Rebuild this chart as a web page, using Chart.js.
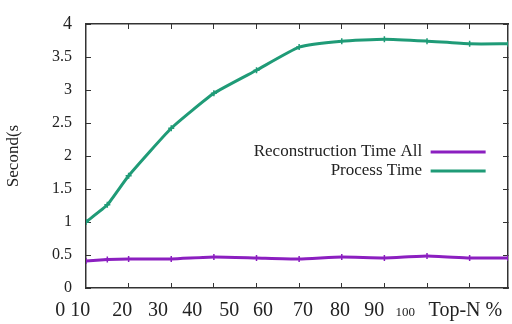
<!DOCTYPE html>
<html><head><meta charset="utf-8">
<script src="https://cdn.jsdelivr.net/npm/chart.js@4"></script>
<style>html,body{margin:0;padding:0;background:#fff;} #c{display:block;}</style>
</head><body>
<canvas id="c" width="512" height="324"></canvas>
<script>
// ---- data ----
const topN = [0, 5, 10, 20, 30, 40, 50, 60, 70, 80, 90, 99];
const reconstructionTimeAll = [0.41, 0.43, 0.44, 0.44, 0.47, 0.455, 0.44, 0.47, 0.455, 0.485, 0.455, 0.455];
const processTime = [1.0, 1.26, 1.70, 2.42, 2.95, 3.30, 3.65, 3.74, 3.77, 3.74, 3.70, 3.70];
const seriesNames = ['Reconstruction Time All', 'Process Time'];
const xTickLabels = ['0 10', '20', '30', '40', '50', '60', '70', '80', '90', '100', 'Top-N %'];
const xTickMarks = [10, 20, 30, 40, 50, 60, 70, 80, 90];
const yTickValues = [0, 0.5, 1, 1.5, 2, 2.5, 3, 3.5, 4];
const yTitle = 'Second(s';

// ---- layout / style ----
const xLabelAnchors = [-3.1, 8.5, 16.9, 24.9, 33.6, 41.5, 50.9, 59.6, 67.6, 74.9, 89];
const FONT = "'Liberation Serif', 'Times New Roman', serif";
const FRAME = '#333';
const PURPLE = '#8b1fc0';
const GREEN = '#1f9b77';

Chart.defaults.font.family = FONT;
Chart.defaults.color = '#222';

const pts = arr => topN.map((x, i) => ({x: x, y: arr[i]}));

const placeLegend = {
  id: 'placeLegend',
  afterLayout(chart) {
    const lg = chart.legend, ca = chart.chartArea;
    const pad = lg.options.labels.padding;
    const rightEdge = ca.left + 0.947 * (ca.right - ca.left);
    lg.left = rightEdge - lg.width + pad;
    lg.right = lg.left + lg.width;
    lg.top = ca.top + 0.445 * (ca.bottom - ca.top);
    lg.bottom = ca.bottom;
  }
};

const noPad = s => { s.paddingTop = 0; s.paddingBottom = 0; s.paddingLeft = 0; s.paddingRight = 0; };

new Chart(document.getElementById('c'), {
  type: 'line',
  data: {
    datasets: [
      {label: seriesNames[0], data: pts(reconstructionTimeAll), borderColor: PURPLE, backgroundColor: PURPLE,
       borderWidth: 3, pointStyle: 'cross', pointRadius: 3, pointBorderWidth: 1.5, tension: 0.15, xAxisID: 'x', yAxisID: 'y'},
      {label: seriesNames[1], data: pts(processTime), borderColor: GREEN, backgroundColor: GREEN,
       borderWidth: 3, pointStyle: 'cross', pointRadius: 3, pointBorderWidth: 1.5, tension: 0.15, xAxisID: 'x', yAxisID: 'y'}
    ]
  },
  options: {
    responsive: false,
    animation: false,
    layout: {padding: 0, autoPadding: false},
    scales: {
      x: {
        type: 'linear', position: 'bottom', min: 0, max: 99, weight: 1,
        afterBuildTicks: s => { s.ticks = xLabelAnchors.map(v => ({value: v})); },
        ticks: {
          autoSkip: false, maxRotation: 0, minRotation: 0, padding: 11, color: '#222',
          font: ctx => (ctx.index === 9 ? {family: FONT, size: 13, lineHeight: 2.08} : {family: FONT, size: 20}),
          callback: (v, i) => xTickLabels[i]
        },
        grid: {drawOnChartArea: false, drawTicks: false},
        border: {display: true, color: FRAME, width: 1.5},
        afterFit: s => { s.height = 36; noPad(s); }
      },
      xb: {
        type: 'linear', position: 'bottom', min: 0, max: 99, weight: -1,
        afterBuildTicks: s => { s.ticks = xTickMarks.map(v => ({value: v})); },
        ticks: {display: false},
        grid: {drawOnChartArea: false, drawTicks: true, tickLength: -5, color: FRAME, lineWidth: 1},
        border: {display: false},
        afterFit: s => { s.height = 0; noPad(s); }
      },
      x2: {
        type: 'linear', position: 'top', min: 0, max: 99,
        afterBuildTicks: s => { s.ticks = xTickMarks.map(v => ({value: v})); },
        ticks: {display: false},
        grid: {drawOnChartArea: false, drawTicks: true, tickLength: -5, color: FRAME, lineWidth: 1},
        border: {display: true, color: FRAME, width: 1.5},
        afterFit: s => { s.height = 24; noPad(s); }
      },
      y: {
        type: 'linear', position: 'left', min: 0, max: 4,
        afterBuildTicks: s => { s.ticks = yTickValues.map(v => ({value: v})); },
        ticks: {
          padding: 19, color: '#222',
          font: ctx => ({family: FONT, size: ctx.index === 8 ? 18 : 16}),
          callback: v => String(v)
        },
        grid: {drawOnChartArea: false, drawTicks: true, tickLength: -5, color: FRAME, lineWidth: 1},
        border: {display: true, color: FRAME, width: 1.5},
        title: {display: true, text: yTitle, color: '#222', font: {family: FONT, size: 17}, padding: {top: 3, bottom: 0}},
        afterFit: s => { s.width = 86; noPad(s); }
      },
      y2: {
        type: 'linear', position: 'right', min: 0, max: 4,
        afterBuildTicks: s => { s.ticks = yTickValues.map(v => ({value: v})); },
        ticks: {display: false},
        grid: {drawOnChartArea: false, drawTicks: true, tickLength: -5, color: FRAME, lineWidth: 1},
        border: {display: true, color: FRAME, width: 1.5},
        afterFit: s => { s.width = 4; noPad(s); }
      }
    },
    plugins: {
      tooltip: {enabled: false},
      legend: {
        position: 'chartArea', align: 'start', rtl: true,
        labels: {
          boxWidth: 55, boxHeight: 3, padding: 2, color: '#222',
          font: {family: FONT, size: 17},
          generateLabels: chart => chart.data.datasets.map((d, i) => ({
            text: d.label, fillStyle: d.borderColor, strokeStyle: d.borderColor,
            lineWidth: 0, hidden: false, datasetIndex: i, fontColor: '#222'
          }))
        }
      }
    }
  },
  plugins: [placeLegend]
});
</script>
</body></html>
